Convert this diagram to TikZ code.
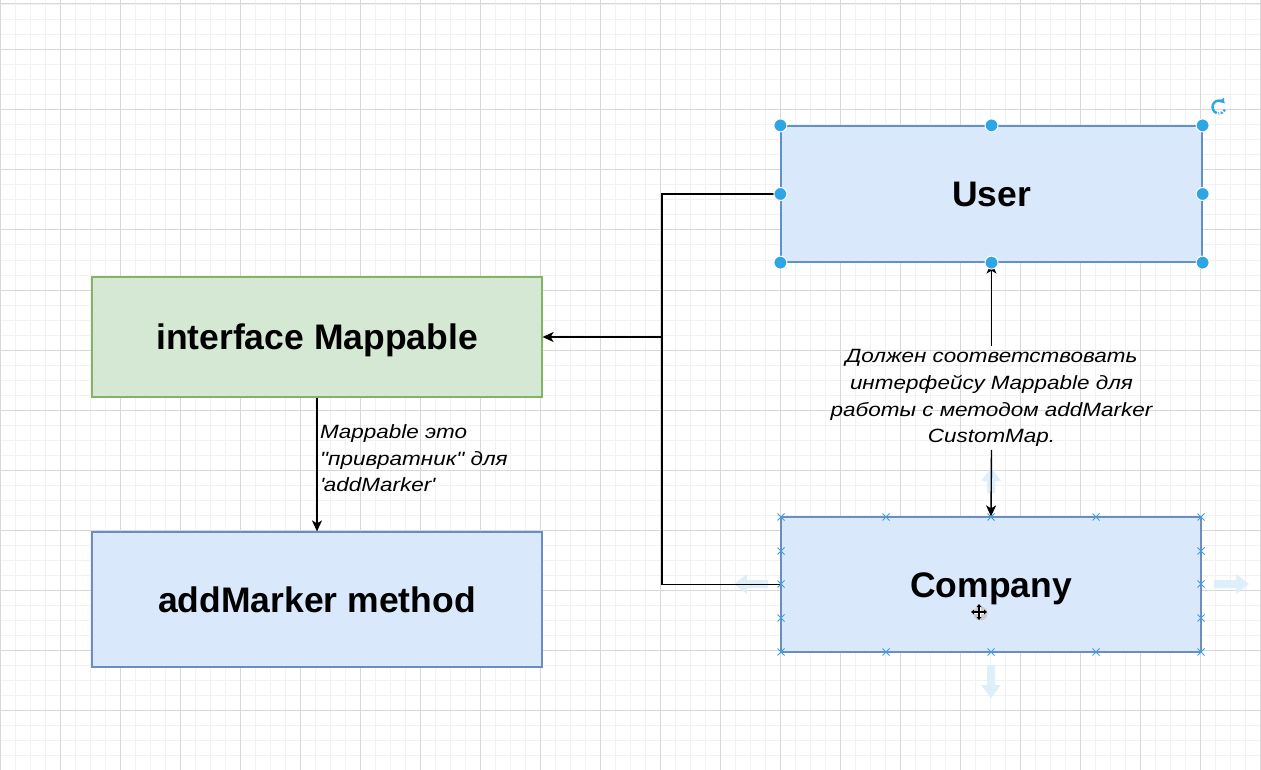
\documentclass[tikz,border=0pt]{standalone}
\usepackage{fontspec}
\setmainfont{Liberation Sans}
\newfontfamily\lblfont[FakeStretch=1.17]{Liberation Sans}
\usetikzlibrary{arrows.meta}
\definecolor{gridmaj}{HTML}{D8D8D8}
\definecolor{gridmin}{HTML}{F2F2F2}
\definecolor{bluefill}{HTML}{DAE8FC}
\definecolor{bluestroke}{HTML}{6C8EBF}
\definecolor{greenfill}{HTML}{D5E8D4}
\definecolor{greenstroke}{HTML}{82B366}
\definecolor{handle}{HTML}{2EA6E6}
\definecolor{selblue}{HTML}{3A9FE0}
\definecolor{ghost}{HTML}{DDF0FA}
\begin{document}
\begin{tikzpicture}[x=1pt,y=-1pt,
  box/.style={draw, line width=1.2pt, inner sep=0pt,
    font=\fontsize{35.5}{40}\selectfont\bfseries, text height=25.4pt, text depth=0pt},
  greenbox/.style={box, fill=greenfill, draw=greenstroke},
  bluebox/.style={box, fill=bluefill, draw=bluestroke},
  conn/.style={draw=black, line width=1.4pt},
  tip/.style={-{Stealth[length=11pt,width=10pt,inset=3pt]}},
  lbl/.style={inner sep=3pt, font=\lblfont\itshape\fontsize{19.2}{26.7}\selectfont},
  hdl/.style={fill=handle, draw=white, line width=1pt},
  xmark/.style={draw=selblue, line width=1pt},
  ghostarrow/.style={fill=ghost, draw=none}
]
\useasboundingbox (0,0) rectangle (1261,770);
\fill[white] (0,0) rectangle (1261,770);
% grid
\foreach \i in {0,...,84} {\draw[gridmin, line width=1pt] (15*\i,0) -- (15*\i,770);}
\foreach \j in {0,...,51} {\draw[gridmin, line width=1pt] (0,5+15*\j) -- (1261,5+15*\j);}
\foreach \i in {0,...,21} {\draw[gridmaj, line width=1pt] (60*\i,0) -- (60*\i,770);}
\foreach \j in {0,...,12} {\draw[gridmaj, line width=1pt] (0,50+60*\j) -- (1261,50+60*\j);}
\draw[gridmaj, line width=1pt] (0,3.5) -- (1261,3.5);

% boxes
\node[greenbox, minimum width=450pt, minimum height=120pt] (mappable) at (317,337) {interface Mappable};
\node[bluebox, minimum width=450pt, minimum height=135pt] (addmarker) at (317,599.5) {addMarker method};
\node[bluebox, minimum width=421pt, minimum height=136pt] (user) at (991.5,194) {User};
\node[bluebox, minimum width=420pt, minimum height=135pt] (company) at (991,584.5) {Company};

% ghost arrows around Company
\path[ghostarrow] (991,468) -- (1001,481) -- (995,481) -- (995,493) -- (987,493) -- (987,481) -- (981,481) -- cycle;
\path[ghostarrow] (991,698) -- (1001,685) -- (995,685) -- (995,665) -- (987,665) -- (987,685) -- (981,685) -- cycle;
\path[ghostarrow] (734,584) -- (747,574) -- (747,580) -- (768,580) -- (768,588) -- (747,588) -- (747,594) -- cycle;
\path[ghostarrow] (1249,584) -- (1236,574) -- (1236,580) -- (1214,580) -- (1214,588) -- (1236,588) -- (1236,594) -- cycle;

% selection dashes on User
\draw[selblue, line width=1.2pt, dash pattern=on 4pt off 4pt] (user.north west) rectangle (user.south east);

% connectors
\coordinate (junction) at (662,337);
\draw[conn, tip] (user.west) -| (junction) -- (mappable.east);
\draw[conn] (company.west) -| (junction);
\draw[conn, tip] (mappable.south) -- (addmarker.north);
\node[lbl, anchor=base west, align=left] (gatelbl) at (317,491.7)
  {Mappable это\\"привратник" для\\\textquotesingle addMarker\textquotesingle};
\node[lbl, anchor=base, align=center] (mustlbl) at (991.5,442.8)
  {Должен соответствовать\\интерфейсу Mappable для\\работы с методом addMarker\\CustomMap.};
\draw[conn, tip] (mustlbl.north) -- (user.south);
\draw[conn, tip] (mustlbl.south) -- (company.north);

% handles on User
\foreach \p in {north west, north, north east, west, east, south west, south, south east}
  {\path[hdl] (user.\p) circle[radius=6.5pt];}

% rotate icon
\begin{scope}[shift={(1219,107)}, yscale=-1]
  \draw[handle, line width=2.4pt, -{Triangle[length=4pt,width=7pt]}] (250:6.5) arc[start angle=250, end angle=40, radius=6.5];
  \draw[handle, line width=2.4pt, dash pattern=on 2pt off 1.5pt] (335:6.5) arc[start angle=335, end angle=265, radius=6.5];
\end{scope}

% x marks on Company
\foreach \xx in {781,886,991,1096,1201}
  {\foreach \yy in {517,652}
    {\draw[xmark] (\xx-3.5,\yy-3.5) -- (\xx+3.5,\yy+3.5) (\xx-3.5,\yy+3.5) -- (\xx+3.5,\yy-3.5);}}
\foreach \xx in {781,1201}
  {\foreach \yy in {551,584,618}
    {\draw[xmark] (\xx-3.5,\yy-3.5) -- (\xx+3.5,\yy+3.5) (\xx-3.5,\yy+3.5) -- (\xx+3.5,\yy-3.5);}}

% move cursor
\begin{scope}[shift={(979,612)}]
  \fill[gray!40] (1.5,1.5) circle[radius=7];
  \draw[white, line width=3pt] (-7,0) -- (7,0) (0,-7) -- (0,7);
  \draw[black, line width=1.2pt] (-6,0) -- (6,0) (0,-6) -- (0,6);
  \fill[black] (-8,0) -- (-5,-2.5) -- (-5,2.5) -- cycle;
  \fill[black] (8,0) -- (5,-2.5) -- (5,2.5) -- cycle;
  \fill[black] (0,-8) -- (-2.5,-5) -- (2.5,-5) -- cycle;
  \fill[black] (0,8) -- (-2.5,5) -- (2.5,5) -- cycle;
\end{scope}
\end{tikzpicture}
\end{document}
